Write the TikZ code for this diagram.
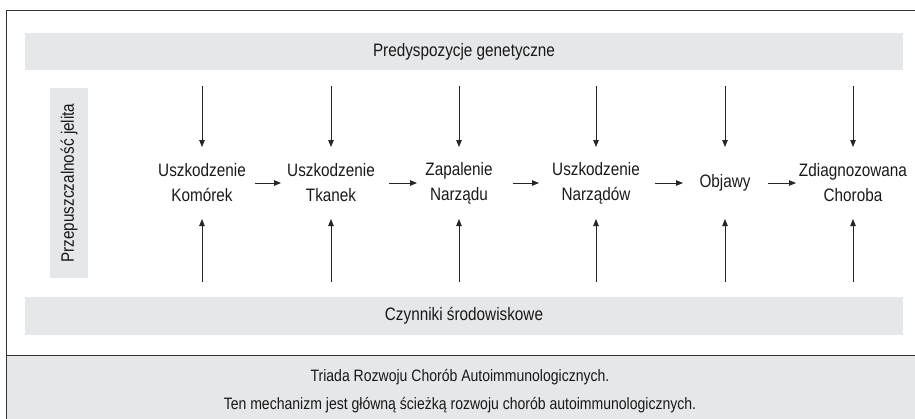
\documentclass[tikz,border=0pt]{standalone}
\usepackage{fontspec}
\setmainfont[FakeStretch=0.85]{Liberation Sans}
\usetikzlibrary{arrows.meta}
\definecolor{band}{HTML}{E6E7E9}
\definecolor{frame}{HTML}{333333}
\tikzset{
  lbl/.style={font=\fontsize{18}{25}\selectfont, text=black!90, align=center, inner sep=0pt},
  arr/.style={draw=black!85, line width=0.8pt, -{Triangle[length=7pt,width=5.5pt]}},
  bandbox/.style={fill=band, draw=none}
}
\begin{document}
\begin{tikzpicture}[x=1pt,y=-1pt]
\useasboundingbox (0,0) rectangle (915,418);
\begin{scope}
\clip (0,0) rectangle (915,418);
\fill[band] (6,355) rectangle (930,430);
\draw[frame, line width=1pt] (6,430) -- (6,10) -- (930,10);
\draw[frame, line width=1pt] (6,355) -- (930,355);
\end{scope}
% bands
\node[bandbox, minimum width=878pt, minimum height=37pt, inner sep=0pt] (gen) at (464,51.5) {};
\node[lbl] (gent) at (gen.center) {Predyspozycje genetyczne};
\node[bandbox, minimum width=878pt, minimum height=38pt, inner sep=0pt] (env) at (464,316) {};
\node[lbl] (envt) at (env.center) {Czynniki środowiskowe};
\node[bandbox, minimum width=38pt, minimum height=190pt, inner sep=0pt] (perm) at (69,183) {};
\node[lbl, rotate=90] (permt) at (perm.center) {Przepuszczalność jelita};
% stages
\node[lbl] (s1) at (202,183) {Uszkodzenie\\Komórek};
\node[lbl] (s2) at (331,183) {Uszkodzenie\\Tkanek};
\node[lbl] (s3) at (459,183) {Zapalenie\\Narządu};
\node[lbl] (s4) at (596,183) {Uszkodzenie\\Narządów};
\node[lbl] (s5) at (725,183) {Objawy};
\node[lbl] (s6) at (853,183) {Zdiagnozowana\\Choroba};
% horizontal arrows
\draw[arr] (255,183) -- (281,183);
\draw[arr] (389,183) -- (417,183);
\draw[arr] (513,183) -- (539,183);
\draw[arr] (655,183) -- (683,183);
\draw[arr] (768,183) -- (796,183);
% vertical arrows
\foreach \n/\x in {1/202,2/331,3/459,4/596,5/725,6/853}{
  \coordinate (t\n) at (\x,86);
  \coordinate (dt\n) at (\x,147);
  \coordinate (b\n) at (\x,282);
  \coordinate (ub\n) at (\x,219);
  \draw[arr] (t\n) -- (dt\n);
  \draw[arr] (b\n) -- (ub\n);
}
% caption
\node[lbl, font=\fontsize{16.5}{28}\selectfont] (cap) at (460,391) {Triada Rozwoju Chorób Autoimmunologicznych.\\Ten mechanizm jest główną ścieżką rozwoju chorób autoimmunologicznych.};
\end{tikzpicture}
\end{document}
